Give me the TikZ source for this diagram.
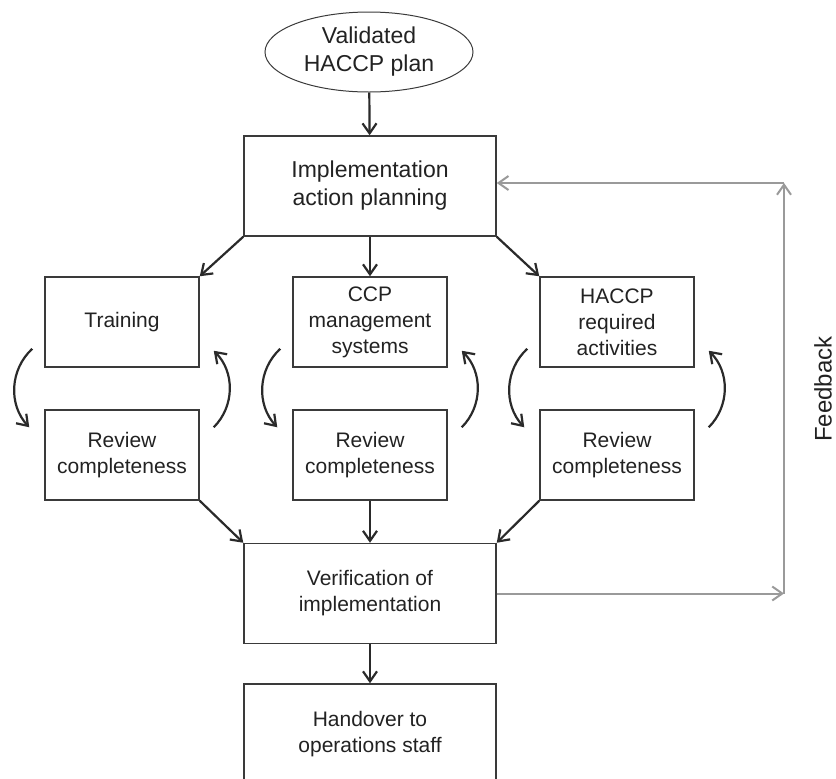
\documentclass[tikz,border=0pt]{standalone}
\usepackage{fontspec}
\setmainfont{Liberation Sans}
\usetikzlibrary{arrows.meta,calc,shapes.geometric}

\definecolor{linegray}{HTML}{3A3A3A}
\definecolor{arrowdark}{HTML}{2A2A2A}
\definecolor{fbgray}{HTML}{9A9A9A}
\definecolor{textdark}{HTML}{222222}

\tikzset{
  box/.style={draw=linegray, line width=0.75pt, align=center, text=textdark, inner sep=2pt},
  bigbox/.style={box, minimum width=126pt, minimum height=50pt, font=\fontsize{10.5}{13}\selectfont},
  smallbox/.style={box, minimum width=77pt, minimum height=45pt, font=\fontsize{10.5}{13}\selectfont},
  oval/.style={ellipse, draw=linegray, line width=0.5pt, minimum width=104pt, minimum height=40pt,
    inner sep=0pt, align=center, text=textdark, font=\fontsize{11.5}{14}\selectfont},
  flow/.style={draw=arrowdark, line width=1.1pt, -{Straight Barb[length=5pt,width=7pt]}},
  fback/.style={draw=fbgray, line width=1pt, -{Straight Barb[length=5pt,width=7pt]}},
}

\begin{document}
\begin{tikzpicture}[x=0.5pt, y=-0.5pt]
    \useasboundingbox (0,0) rectangle (836,778);

    % Nodes
    \node[oval] (plan) at (369,52) {Validated\\HACCP plan};
    \node[bigbox, font=\fontsize{11.5}{14}\selectfont] (impl) at (370,186) {Implementation\\action planning};
    \node[smallbox] (train) at (122,322) {Training};
    \node[smallbox] (ccp) at (370,322) {CCP\\management\\systems};
    \node[smallbox] (req) at (617,322) {HACCP\\required\\activities};
    \node[smallbox] (revA) at (122,455) {Review\\completeness};
    \node[smallbox] (revB) at (370,455) {Review\\completeness};
    \node[smallbox] (revC) at (617,455) {Review\\completeness};
    \node[bigbox] (verif) at (370,593.5) {Verification of\\implementation};
    \node[bigbox] (hand) at (370,734) {Handover to\\operations staff};
    \node[rotate=90, text=textdark, font=\fontsize{12}{14}\selectfont] (fbtext) at (823,389) {Feedback};

    % Edges
    \draw[flow] (plan) -- (impl);
    \draw[flow] (impl.south west) -- (train.north east);
    \draw[flow] (impl) -- (ccp);
    \draw[flow] (impl.south east) -- (req.north west);
    \draw[flow] (revA.south east) -- (verif.north west);
    \draw[flow] (revB) -- (verif);
    \draw[flow] (revC.south west) -- (verif.north east);
    \draw[flow] (verif) -- (hand);

    % Review loops
    \foreach \act/\rev in {train/revA, ccp/revB, req/revC} {
        \draw[flow] ($(\act.south west)+(-12,-19)$) to[bend right=45] ($(\rev.north west)+(-15,18)$);
        \draw[flow] ($(\rev.north east)+(14,18)$) to[bend right=45] ($(\act.south east)+(14,-17)$);
    }

    % Feedback
    \coordinate (fbB) at (784,593.5);
    \coordinate (fbT) at (784,183);
    \draw[fback] (verif.east) -- (fbB);
    \draw[fback] (fbB) -- (fbT);
    \draw[fback] (fbT) -- (impl.east |- fbT);
\end{tikzpicture}
\end{document}
